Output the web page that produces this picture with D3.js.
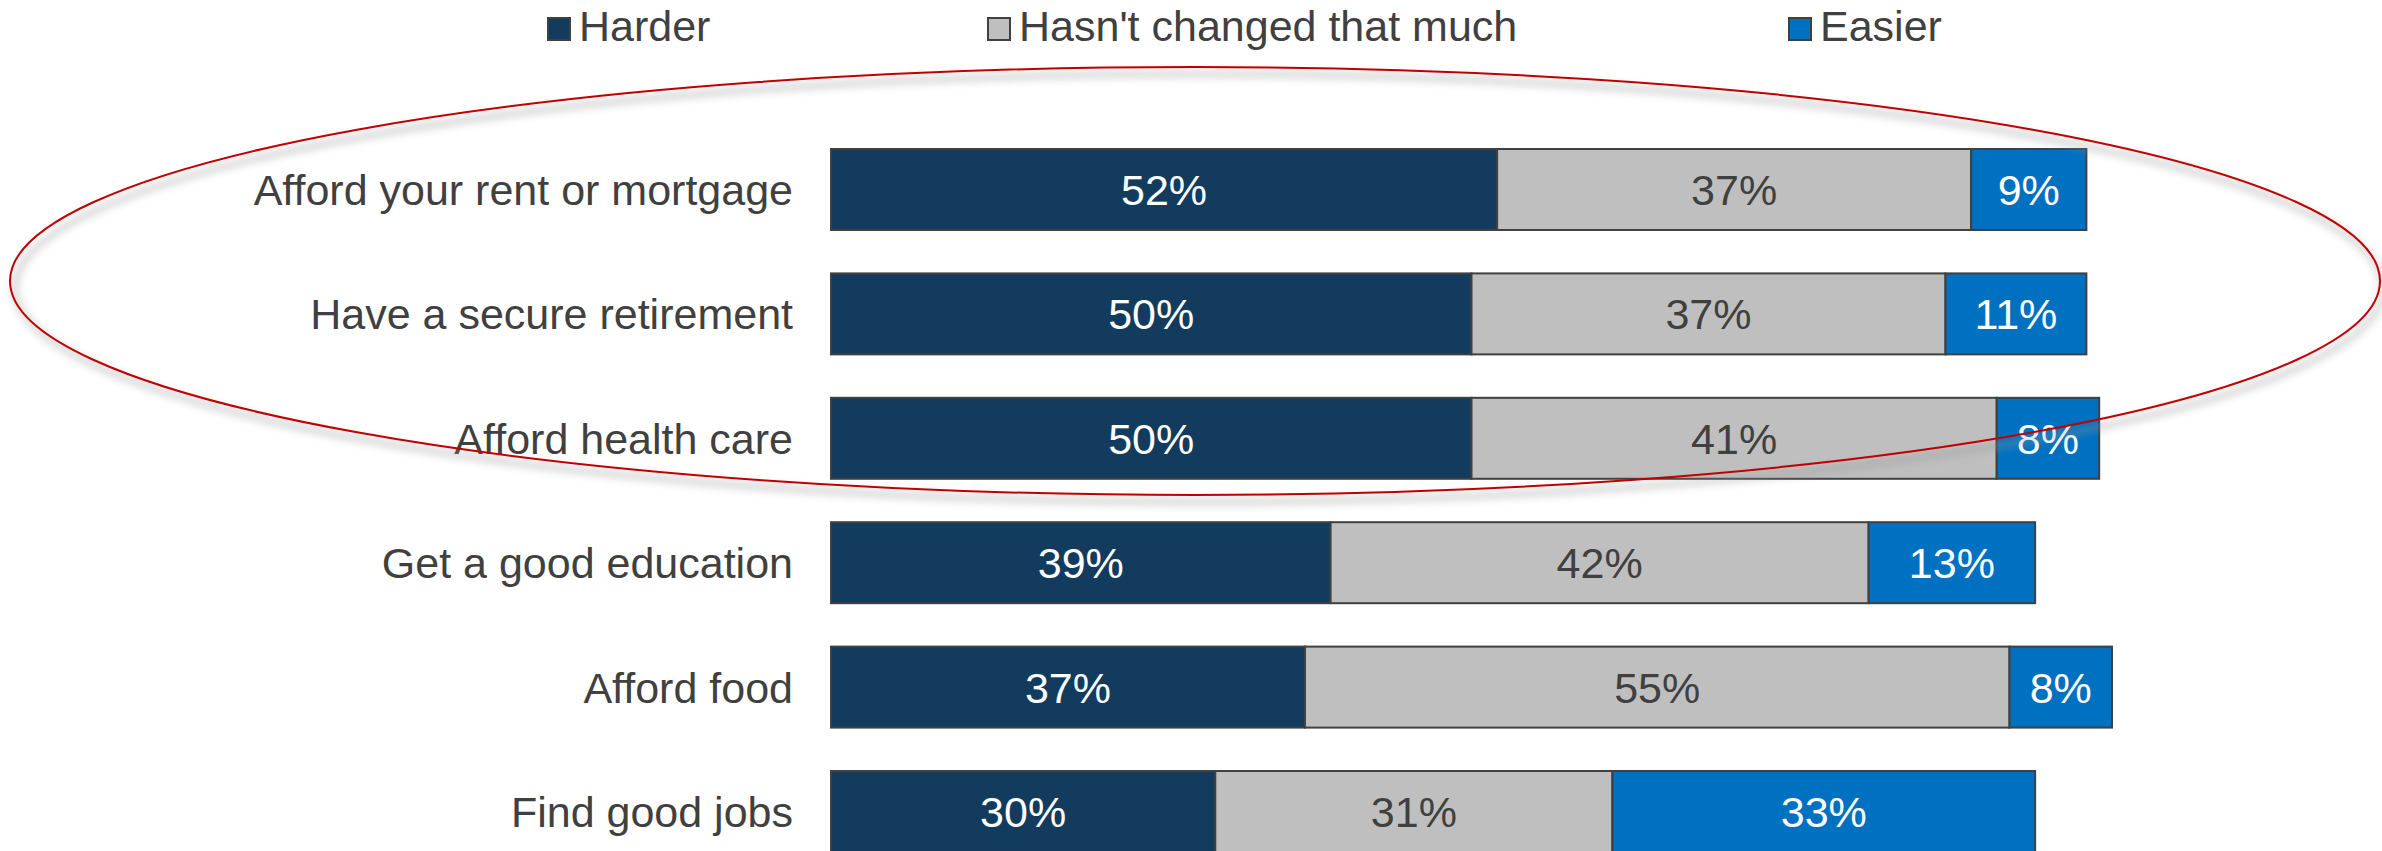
<!DOCTYPE html>
<html>
<head>
<meta charset="utf-8">
<script src="https://cdn.jsdelivr.net/npm/d3@7"></script>
<style>
  html, body { margin: 0; padding: 0; background: #fff; }
  svg { display: block; }
</style>
</head>
<body>
<svg id="chart" width="2382" height="851"></svg>
<script>
const font = 'Arial, "Liberation Sans", sans-serif'
const fontSize = 43
const textColor = '#404040'
const strokeColor = '#404040'

const categories = ['Afford your rent or mortgage', 'Have a secure retirement', 'Afford health care',
  'Get a good education', 'Afford food', 'Find good jobs']
const seriesNames = ['Harder', "Hasn't changed that much", 'Easier']
const harder = [52, 50, 50, 39, 37, 30]
const noChange = [37, 37, 41, 42, 55, 31]
const easier = [9, 11, 8, 13, 8, 33]

const colors = ['#123B5E', '#BFBFBF', '#0070C0']
const labelColors = ['#ffffff', '#404040', '#ffffff']

const svg = d3.select('#chart')

const xScale = d3.scaleLinear().domain([0, 100]).range([831, 2112])
const yScale = d3.scaleBand().domain(categories).range([149, 852]).paddingInner(0.349).paddingOuter(0)

// build stacked table
const table = categories.map((c, i) => ({ cat: c, Harder: harder[i], "Hasn't changed that much": noChange[i], Easier: easier[i] }))
const stacked = d3.stack().keys(seriesNames)(table)

const defs = svg.append('defs')
const blur = defs.append('filter').attr('id', 'shadow').attr('x', '-10%').attr('y', '-20%').attr('width', '120%').attr('height', '140%')
blur.append('feGaussianBlur').attr('stdDeviation', 4)

const layers = svg.append('g')
  .selectAll('g')
  .data(stacked)
  .enter()
  .append('g')
  .attr('fill', (d, i) => colors[i])

layers.selectAll('rect')
  .data(d => d)
  .enter()
  .append('rect')
  .attr('x', d => xScale(d[0]))
  .attr('y', d => yScale(d.data.cat))
  .attr('width', d => xScale(d[1]) - xScale(d[0]))
  .attr('height', yScale.bandwidth())
  .attr('stroke', strokeColor)
  .attr('stroke-width', 2)

stacked.forEach((layer, i) => {
  svg.append('g')
    .selectAll('text')
    .data(layer)
    .enter()
    .append('text')
    .attr('x', d => (xScale(d[0]) + xScale(d[1])) / 2)
    .attr('y', d => yScale(d.data.cat) + yScale.bandwidth() / 2)
    .attr('dy', '0.36em')
    .attr('text-anchor', 'middle')
    .attr('font-family', font)
    .attr('font-size', fontSize)
    .attr('fill', labelColors[i])
    .text(d => (d[1] - d[0]) + '%')
})

// category labels
svg.append('g')
  .selectAll('text')
  .data(categories)
  .enter()
  .append('text')
  .attr('x', 793)
  .attr('y', d => yScale(d) + yScale.bandwidth() / 2)
  .attr('dy', '0.36em')
  .attr('text-anchor', 'end')
  .attr('font-family', font)
  .attr('font-size', fontSize)
  .attr('fill', textColor)
  .text(d => d)

// legend
const legendX = [548, 988, 1789]
const legend = svg.append('g')
seriesNames.forEach((name, i) => {
  legend.append('rect')
    .attr('x', legendX[i]).attr('y', 18)
    .attr('width', 22).attr('height', 22)
    .attr('fill', colors[i])
    .attr('stroke', strokeColor).attr('stroke-width', 2)
  legend.append('text')
    .attr('x', legendX[i] + 31).attr('y', 41)
    .attr('font-family', font)
    .attr('font-size', fontSize)
    .attr('fill', textColor)
    .text(name)
})

// red ellipse highlight with soft shadow
svg.append('ellipse')
  .attr('cx', 1199).attr('cy', 288).attr('rx', 1184).attr('ry', 214)
  .attr('fill', 'none').attr('stroke', '#999').attr('stroke-width', 5).attr('opacity', 0.55)
  .attr('filter', 'url(#shadow)')
svg.append('ellipse')
  .attr('cx', 1195).attr('cy', 281).attr('rx', 1185).attr('ry', 214)
  .attr('fill', 'none').attr('stroke', '#C00000').attr('stroke-width', 2)
</script>
</body>
</html>
